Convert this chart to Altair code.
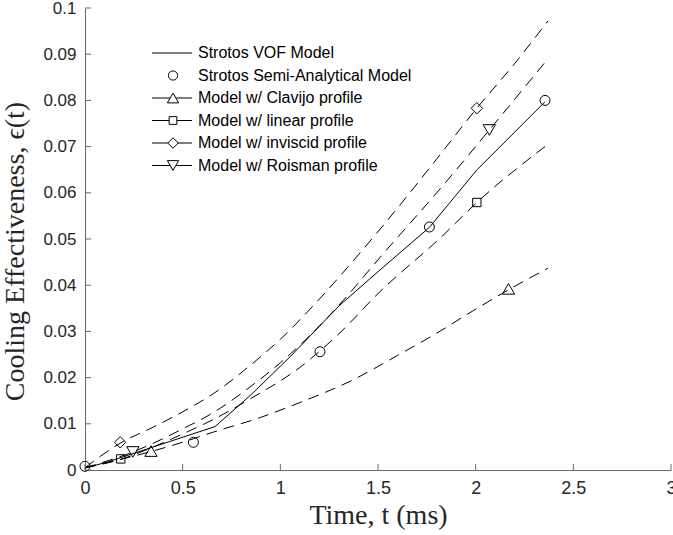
import altair as alt
import pandas as pd

# ---------------- data ----------------
vof_t = [0.0, 0.12, 0.666, 0.85, 1.05, 1.30, 1.51, 1.763, 2.005, 2.355]
vof_y = [0.0004, 0.0018, 0.0094, 0.0163, 0.0245, 0.0355, 0.0433, 0.0525, 0.0649, 0.0797]

semi_t = [0.0, 0.555, 1.203, 1.763, 2.355]
semi_y = [0.0008, 0.0060, 0.0256, 0.0526, 0.0800]

clav_t = [0.0, 0.338, 0.5, 0.657, 0.9, 1.1, 1.357, 1.6, 1.8, 1.988, 2.168, 2.37]
clav_y = [0.0005, 0.0040, 0.0060, 0.0082, 0.0114, 0.0146, 0.0192, 0.0248, 0.0296, 0.0345, 0.0390, 0.0437]
clav_mt = [0.338, 2.168]
clav_my = [0.0041, 0.0392]

lin_t = [0.0, 0.183, 0.35, 0.5, 0.66, 0.85, 1.1, 1.3, 1.51, 1.818, 2.006, 2.37]
lin_y = [0.0005, 0.0023, 0.0050, 0.0078, 0.0110, 0.0155, 0.0222, 0.0295, 0.0386, 0.0502, 0.0579, 0.0705]
lin_mt = [0.183, 2.006]
lin_my = [0.0024, 0.0579]

inv_t = [0.0, 0.18, 0.35, 0.5, 0.66, 0.83, 1.0, 1.2, 1.4, 1.6, 1.8, 2.0, 2.2, 2.37]
inv_y = [0.0005, 0.0058, 0.0093, 0.0126, 0.0166, 0.0221, 0.0283, 0.0370, 0.0466, 0.0567, 0.0673, 0.0780, 0.0880, 0.0972]
inv_mt = [0.18, 2.006]
inv_my = [0.0060, 0.0783]

roi_t = [0.0, 0.245, 0.5, 0.66, 0.83, 1.0, 1.1, 1.29, 1.51, 1.835, 2.07, 2.37]
roi_y = [0.0005, 0.0039, 0.0089, 0.0125, 0.0175, 0.0232, 0.0270, 0.0352, 0.0460, 0.0617, 0.0736, 0.0890]
roi_mt = [0.245, 2.07]
roi_my = [0.0039, 0.0736]

x_ticks = [0, 0.5, 1, 1.5, 2, 2.5, 3]
y_ticks = [0, 0.01, 0.02, 0.03, 0.04, 0.05, 0.06, 0.07, 0.08, 0.09, 0.1]

legend_labels = [
    "Strotos VOF Model",
    "Strotos Semi-Analytical Model",
    "Model w/ Clavijo profile",
    "Model w/ linear profile",
    "Model w/ inviscid profile",
    "Model w/ Roisman profile",
]
legend_shapes = [None, "circle", "triangle-up", "square", "diamond", "triangle-down"]
legend_lines = [True, False, True, True, True, True]

# ---------------- styling ----------------
W, H = 586, 462
AX = "#6a6a6a"
TXT = "#262626"
SANS = "Liberation Sans"
SERIF = "Liberation Serif"
DASH = [11, 7]
SIZES = {"circle": 100, "triangle-up": 150, "triangle-down": 150, "square": 70, "diamond": 130}

xs = alt.Scale(domain=[0, 3], nice=False, zero=False)
ys = alt.Scale(domain=[0, 0.1], nice=False, zero=False)

xaxis = alt.Axis(values=x_ticks, format="~g", tickSize=0, grid=False, labelFlush=False,
                 domainColor=AX, domainWidth=1, labelColor=TXT, labelFont=SANS,
                 labelFontSize=18, labelPadding=9, title="Time, t (ms)",
                 titleFont=SERIF, titleFontSize=28, titleFontWeight="normal",
                 titleColor=TXT, titleY=53, titleBaseline="alphabetic")
yaxis = alt.Axis(values=y_ticks, format="~g", tickSize=0, grid=False, labelFlush=False,
                 domainColor=AX, domainWidth=1, labelColor=TXT, labelFont=SANS,
                 labelFontSize=17, labelPadding=9,
                 title="Cooling Effectiveness, \u03f5(t)",
                 titleFont=SERIF, titleFontSize=28, titleFontWeight="normal",
                 titleColor=TXT, titleX=-62, titleY=H / 2 + 12, titleBaseline="alphabetic")

X = lambda f: alt.X(f, scale=xs, axis=xaxis)
Y = lambda f: alt.Y(f, scale=ys, axis=yaxis)


def line_layer(t, y, dashed):
    df = pd.DataFrame({"t": t, "y": y})
    kw = dict(color="black", strokeWidth=1)
    if dashed:
        kw["strokeDash"] = DASH
        kw["interpolate"] = "monotone"
    return alt.Chart(df).mark_line(**kw).encode(x=X("t:Q"), y=Y("y:Q"))


def point_layer(t, y, shape):
    df = pd.DataFrame({"t": t, "y": y})
    return alt.Chart(df).mark_point(shape=shape, filled=False, color="black",
                                    strokeWidth=1, size=SIZES[shape], opacity=1).encode(
        x=X("t:Q"), y=Y("y:Q"))


layers = [
    line_layer(vof_t, vof_y, False),
    line_layer(clav_t, clav_y, True),
    line_layer(lin_t, lin_y, True),
    line_layer(inv_t, inv_y, True),
    line_layer(roi_t, roi_y, True),
    point_layer(semi_t, semi_y, "circle"),
    point_layer(clav_mt, clav_my, "triangle-up"),
    point_layer(lin_mt, lin_my, "square"),
    point_layer(inv_mt, inv_my, "diamond"),
    point_layer(roi_mt, roi_my, "triangle-down"),
]

# inward tick marks (MATLAB style)
tx = pd.DataFrame({"v": x_ticks})
ty = pd.DataFrame({"v": y_ticks})
layers.append(alt.Chart(tx).mark_rule(color=AX, strokeWidth=1).encode(
    x=X("v:Q"), y=alt.value(H), y2=alt.value(H - 6)))
layers.append(alt.Chart(ty).mark_rule(color=AX, strokeWidth=1).encode(
    y=Y("v:Q"), x=alt.value(0), x2=alt.value(6)))

# manual legend
one = pd.DataFrame({"a": [0]})
LX0, LX1, LXM, LXT = 67, 107, 88, 113
LY0, LDY = 45, 22.5
for i, (lab, shp, ln) in enumerate(zip(legend_labels, legend_shapes, legend_lines)):
    yy = LY0 + i * LDY
    if ln:
        layers.append(alt.Chart(one).mark_rule(color="black", strokeWidth=1).encode(
            x=alt.value(LX0), x2=alt.value(LX1), y=alt.value(yy)))
    if shp:
        layers.append(alt.Chart(one).mark_point(
            shape=shp, filled=True, fill="white", stroke="black", strokeWidth=1,
            size=SIZES[shp] * 0.85, opacity=1).encode(x=alt.value(LXM), y=alt.value(yy)))
    layers.append(alt.Chart(one).mark_text(
        text=lab, align="left", baseline="middle", font=SANS, fontSize=16,
        color="black").encode(x=alt.value(LXT), y=alt.value(yy)))

chart = alt.layer(*layers).properties(
    width=W, height=H,
    autosize=alt.AutoSizeParams(type="none"),
    padding={"left": 85, "top": 8, "right": 2, "bottom": 65},
    background="white",
).configure_view(stroke=None)

chart.save("out.html", embed_options={"renderer": "svg", "actions": False})
